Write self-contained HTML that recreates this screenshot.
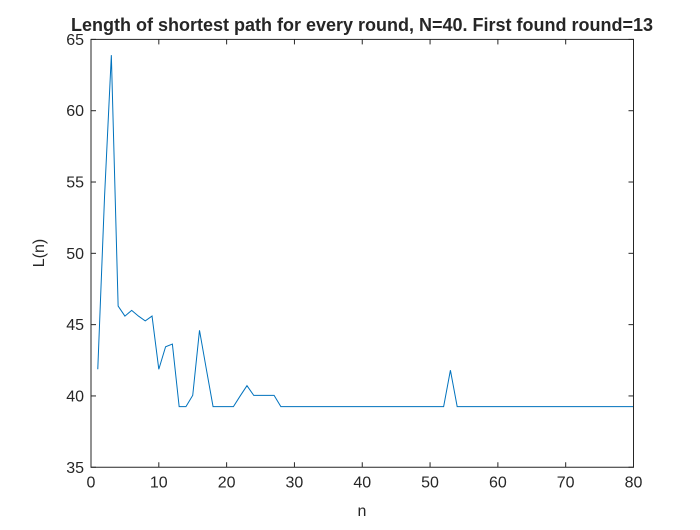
<!DOCTYPE html>
<html><head><meta charset="utf-8"><style>
body{margin:0;background:#fff;}
svg text{font-family:"Liberation Sans",sans-serif;fill:#262626;}
</style></head><body>
<svg id="chart" width="700" height="525" xmlns="http://www.w3.org/2000/svg">
<rect width="700" height="525" fill="#fff"/>
<text x="362" y="31" text-anchor="middle" font-size="18" font-weight="bold" fill="#000">Length of shortest path for every round, N=40. First found round=13</text>
<text x="362" y="516" text-anchor="middle" font-size="16">n</text>
<text transform="translate(44,253) rotate(-90)" text-anchor="middle" font-size="16">L(n)</text>
<g id="axes"></g>
<path id="series" fill="none" stroke="#0072BD" stroke-width="1"/>
<rect x="91" y="39.4" width="542.5" height="427.85" fill="none" stroke="#262626" stroke-width="1"/>
</svg>
<script>
const xTicks=[0,10,20,30,40,50,60,70,80];
const yTicks=[35,40,45,50,55,60,65];
const rounds=[];for(let i=1;i<=80;i++)rounds.push(i);
const lengths=[41.87,54.0,63.9,46.3,45.6,46.0,45.6,45.26,45.6,41.87,43.45,43.64,39.25,39.25,40.04,44.6,41.9,39.25,39.25,39.25,39.25,40.0,40.72,40.04,40.04,40.04,40.04,
39.25,39.25,39.25,39.25,39.25,39.25,39.25,39.25,39.25,39.25,39.25,39.25,39.25,39.25,39.25,39.25,39.25,39.25,39.25,39.25,39.25,39.25,39.25,39.25,39.25,41.8,
39.25,39.25,39.25,39.25,39.25,39.25,39.25,39.25,39.25,39.25,39.25,39.25,39.25,39.25,39.25,39.25,39.25,39.25,39.25,39.25,39.25,39.25,39.25,39.25,39.25,39.25,39.25,39.25,39.25];
const L=91,R=633.5,T=39.4,B=467.25;
const xs=v=>L+(v-0)/(80-0)*(R-L);
const ys=v=>B-(v-35)/(65-35)*(B-T);
const NS="http://www.w3.org/2000/svg";
const ax=document.getElementById('axes');
function mk(tag,attrs){const e=document.createElementNS(NS,tag);for(const k in attrs)e.setAttribute(k,attrs[k]);ax.appendChild(e);return e;}
xTicks.forEach(t=>{
 const x=xs(t);
 const l1=mk('line',{x1:x,x2:x,y1:B,y2:B-5,stroke:'#262626'});
 
 
 const l2=mk('line',{x1:x,x2:x,y1:T,y2:T+5,stroke:'#262626'});
 
 
 const tx=mk('text',{x:x,y:B+20,'text-anchor':'middle','font-size':'16'});
 tx.textContent=t;
 
 
});
yTicks.forEach(t=>{
 const y=ys(t);
 const l1=mk('line',{x1:L,x2:L+5,y1:y,y2:y,stroke:'#262626'});
 
 
 const l2=mk('line',{x1:R,x2:R-5,y1:y,y2:y,stroke:'#262626'});
 
 
 const tx=mk('text',{x:L-7,y:y+5.5,'text-anchor':'end','font-size':'16'});
 tx.textContent=t;
 
 
});
document.getElementById('series').setAttribute('d',rounds.map((r,i)=>(i?'L':'M')+xs(r).toFixed(2)+','+ys(lengths[i]).toFixed(2)).join(' '));
</script>
</body></html>
